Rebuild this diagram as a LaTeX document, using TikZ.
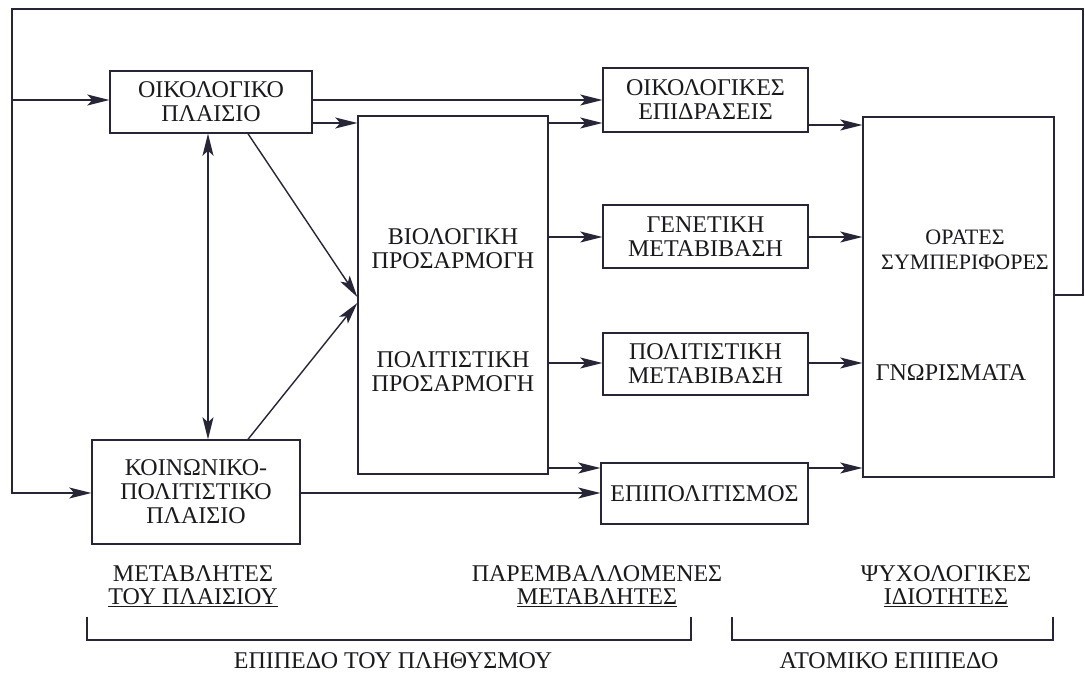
\documentclass[tikz,border=0pt]{standalone}
\usepackage{fontspec}
\setmainfont{Liberation Serif}
\usetikzlibrary{arrows.meta}
\definecolor{inkc}{RGB}{38,38,55}
\definecolor{txtc}{RGB}{25,25,30}
\newcommand\fntA{\fontsize{24}{24}\selectfont}
\newcommand\fntB{\fontsize{22}{25}\selectfont}
\begin{document}
\begin{tikzpicture}[x=1pt,y=-1pt,
  ln/.style={draw=inkc, line width=1.4pt},
  arr/.style={ln, -{Stealth[length=22pt,width=11pt,inset=5pt]}},
  darr/.style={ln, {Stealth[length=22pt,width=11pt,inset=5pt]}-{Stealth[length=22pt,width=11pt,inset=5pt]}},
  box/.style={draw=inkc, line width=1.4pt, inner sep=0pt, align=center, font=\fntA, text=txtc},
  lbl/.style={align=center, font=\fntA, text=txtc, inner sep=0pt},
]
\useasboundingbox (0,0) rectangle (1085,675);
\fill[white] (0,0) rectangle (1085,675);

% row coordinates
\coordinate (r100) at (0,100);
\coordinate (r123) at (0,123);
\coordinate (r125) at (0,125);
\coordinate (r237) at (0,237);
\coordinate (r363) at (0,363);
\coordinate (r468) at (0,468);
\coordinate (r493) at (0,493);
\coordinate (fb) at (0,295);
\coordinate (v208) at (208,0);
\coordinate (fbr) at (1083,295);
\coordinate (tl) at (12,9);

% boxes
\node[box, minimum width=202pt, minimum height=62pt] (oik) at (211,102) {ΟΙΚΟΛΟΓΙΚΟ\\ΠΛΑΙΣΙΟ};
\node[box, minimum width=208pt, minimum height=104pt] (koin) at (196,492) {ΚΟΙΝΩΝΙΚΟ-\\ΠΟΛΙΤΙΣΤΙΚΟ\\ΠΛΑΙΣΙΟ};
\node[box, minimum width=190pt, minimum height=358pt] (mid) at (453,295) {};
\node[box, minimum width=205pt, minimum height=64pt] (oikes) at (705.5,100) {ΟΙΚΟΛΟΓΙΚΕΣ\\ΕΠΙΔΡΑΣΕΙΣ};
\node[box, minimum width=205pt, minimum height=63pt] (gen) at (705.5,236.5) {ΓΕΝΕΤΙΚΗ\\ΜΕΤΑΒΙΒΑΣΗ};
\node[box, minimum width=205pt, minimum height=62pt] (polm) at (705.5,364) {ΠΟΛΙΤΙΣΤΙΚΗ\\ΜΕΤΑΒΙΒΑΣΗ};
\node[box, minimum width=207pt, minimum height=61pt] (epip) at (704.5,493.5) {ΕΠΙΠΟΛΙΤΙΣΜΟΣ};
\node[box, minimum width=191pt, minimum height=360pt] (orat) at (958.5,297) {};

% texts inside the tall boxes
\node[lbl] (bio) at (453,249) {ΒΙΟΛΟΓΙΚΗ\\ΠΡΟΣΑΡΜΟΓΗ};
\node[lbl] (pol) at (453,372) {ΠΟΛΙΤΙΣΤΙΚΗ\\ΠΡΟΣΑΡΜΟΓΗ};
\node[lbl, font=\fntB] (ors) at (965,250) {ΟΡΑΤΕΣ\\ΣΥΜΠΕΡΙΦΟΡΕΣ};
\node[lbl] (gno) at (951,373) {ΓΝΩΡΙΣΜΑΤΑ};

% connectors
\draw[arr] (oik.east |- r100) -- (oikes.west |- r100);
\draw[arr] (oik.east |- r123) -- (mid.west |- r123);
\draw[arr] (mid.east |- r123) -- (oikes.west |- r123);
\draw[arr] (mid.east |- r237) -- (gen.west |- r237);
\draw[arr] (mid.east |- r363) -- (polm.west |- r363);
\draw[arr] (mid.east |- r468) -- (epip.west |- r468);
\draw[arr] (koin.east |- r493) -- (epip.west |- r493);
\draw[arr] (oikes.east |- r125) -- (orat.west |- r125);
\draw[arr] (gen.east |- r237) -- (orat.west |- r237);
\draw[arr] (polm.east |- r363) -- (orat.west |- r363);
\draw[arr] (epip.east |- r468) -- (orat.west |- r468);
\draw[arr] ([xshift=37pt]oik.south) -- ([yshift=-2pt]mid.west);
\draw[arr] ([xshift=52pt]koin.north) -- ([yshift=-8pt]mid.west);
\draw[darr] (oik.south -| v208) -- (koin.north -| v208);

% feedback loop
\draw[arr] (orat.east |- fb) -- (fbr) |- (tl) |- (koin.west |- r493);
\draw[arr] (tl |- r100) -- (oik.west |- r100);

% bottom labels
\node[lbl, font=\fontsize{24}{23}\selectfont] (l1) at (193,586) {ΜΕΤΑΒΛΗΤΕΣ\\\underline{ΤΟΥ ΠΛΑΙΣΙΟΥ}};
\node[lbl, font=\fontsize{24}{23}\selectfont] (l2) at (597,586) {ΠΑΡΕΜΒΑΛΛΟΜΕΝΕΣ\\\underline{ΜΕΤΑΒΛΗΤΕΣ}};
\node[lbl, font=\fontsize{24}{23}\selectfont] (l3) at (946,586) {ΨΥΧΟΛΟΓΙΚΕΣ\\\underline{ΙΔΙΟΤΗΤΕΣ}};

\coordinate (b1a) at (87,617);
\coordinate (b1b) at (691,617);
\coordinate (b2a) at (732,617);
\coordinate (b2b) at (1053,617);
\draw[ln] (b1a) -- ++(0,23) -| (b1b);
\draw[ln] (b2a) -- ++(0,23) -| (b2b);

\node[lbl] (lev1) at (393,661) {ΕΠΙΠΕΔΟ ΤΟΥ ΠΛΗΘΥΣΜΟΥ};
\node[lbl] (lev2) at (889,661) {ΑΤΟΜΙΚΟ ΕΠΙΠΕΔΟ};
\end{tikzpicture}
\end{document}
